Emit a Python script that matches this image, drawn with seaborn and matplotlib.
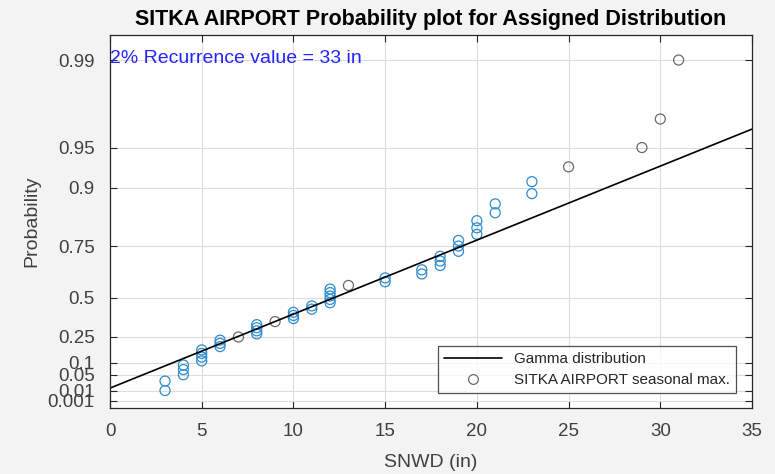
import numpy as np
import pandas as pd
import matplotlib
matplotlib.use("Agg")
import matplotlib.pyplot as plt
from matplotlib.lines import Line2D
import seaborn as sns

# Seasonal max snow depth values (in) (50 seasons)
snwd_values = [3, 3, 4, 4, 4, 5, 5, 5, 5, 6, 6, 6, 7, 8, 8, 8, 8, 9, 10, 10,
               10, 11, 11, 12, 12, 12, 12, 12, 13, 15, 15, 17, 17, 18, 18, 18,
               19, 19, 19, 20, 20, 20, 21, 21, 23, 23, 25, 29, 30, 31]

# Fitted gamma line (end points)
fit_x = [0, 35]
fit_p = [0.014, 0.964]

prob_ticks = [0.001, 0.01, 0.05, 0.1, 0.25, 0.5, 0.75, 0.9, 0.95, 0.99]
prob_labels = ["0.001", "0.01", "0.05", "0.1", "0.25", "0.5", "0.75", "0.9", "0.95", "0.99"]
x_ticks = [0, 5, 10, 15, 20, 25, 30, 35]

# Probability scale based on gamma quantiles (shape 3)
def gamma3_cdf(q):
    q = np.clip(np.asarray(q, dtype=float), 0, None)
    return 1 - np.exp(-q) * (1 + q + q ** 2 / 2)

q_grid = np.linspace(0, 20, 20001)
p_grid = gamma3_cdf(q_grid)

def gamma3_ppf(p):
    return np.interp(np.asarray(p, dtype=float), p_grid, q_grid)

# plotting positions (i - 0.5) / n
df = pd.DataFrame({"snwd": sorted(snwd_values)})
n = len(df)
df["prob"] = (np.arange(1, n + 1) - 0.5) / n
counts = df["snwd"].map(df["snwd"].value_counts())
df["group"] = np.where(counts > 1, "stacked", "single")

sns.set_style("ticks")
plt.rcParams["font.family"] = ["Liberation Sans", "DejaVu Sans"]

fig = plt.figure(figsize=(7.75, 4.74), dpi=100, facecolor="#f3f3f3")
ax = fig.add_axes([110 / 775, 1 - 408 / 474, 642 / 775, 373 / 474])
ax.set_facecolor("white")

sns.lineplot(x=fit_x, y=fit_p, color="black", linewidth=1.2, ax=ax)
sns.scatterplot(data=df, x="snwd", y="prob", hue="group",
                palette={"stacked": "#2e8ccf", "single": "#6a6a6a"},
                marker="o", s=52, linewidth=0.9, legend=False, ax=ax)
# make circles hollow with coloured edges
for coll in ax.collections:
    fc = coll.get_facecolors()
    coll.set_edgecolors(fc)
    coll.set_facecolors("none")

ax.set_yscale("function", functions=(gamma3_ppf, gamma3_cdf))
ax.set_ylim(gamma3_cdf(0.015), gamma3_cdf(9.01))
ax.set_xlim(0, 35)
ax.set_yticks(prob_ticks)
ax.set_yticklabels(prob_labels)
ax.set_xticks(x_ticks)
ax.minorticks_off()

ax.grid(True, color="#dcdcdc", linewidth=0.8)
ax.set_axisbelow(True)
ax.tick_params(direction="in", length=5, width=0.8, colors="#262626",
               labelsize=13.5, top=True, right=True, labelcolor="#404040", pad=11)
for sp in ax.spines.values():
    sp.set_visible(True)
    sp.set_color("#262626")
    sp.set_linewidth(0.9)

ax.set_xlabel("SNWD (in)", fontsize=14, color="#404040", labelpad=10)
ax.set_ylabel("Probability", fontsize=14, color="#404040", labelpad=5)
ax.set_title("SITKA AIRPORT Probability plot for Assigned Distribution",
             fontsize=15.5, fontweight="bold", color="black", pad=7)

ax.text(0.0, 0.938, "2% Recurrence value = 33 in", transform=ax.transAxes,
        ha="left", va="center", fontsize=14, color="#2424ff")

handles = [Line2D([], [], color="black", linewidth=1.2),
           Line2D([], [], linestyle="none", marker="o", markersize=7,
                  markerfacecolor="none", markeredgecolor="#6a6a6a", markeredgewidth=0.9)]
leg = ax.legend(handles, ["Gamma distribution", "SITKA AIRPORT seasonal max."],
                loc="lower right", bbox_to_anchor=(0.975, 0.04), borderaxespad=0,
                fontsize=11, frameon=True, fancybox=False, edgecolor="#262626",
                handlelength=3.8, borderpad=0.4, labelspacing=0.45)
leg.get_frame().set_linewidth(0.9)

fig.savefig("out.png", dpi=100, facecolor=fig.get_facecolor())
